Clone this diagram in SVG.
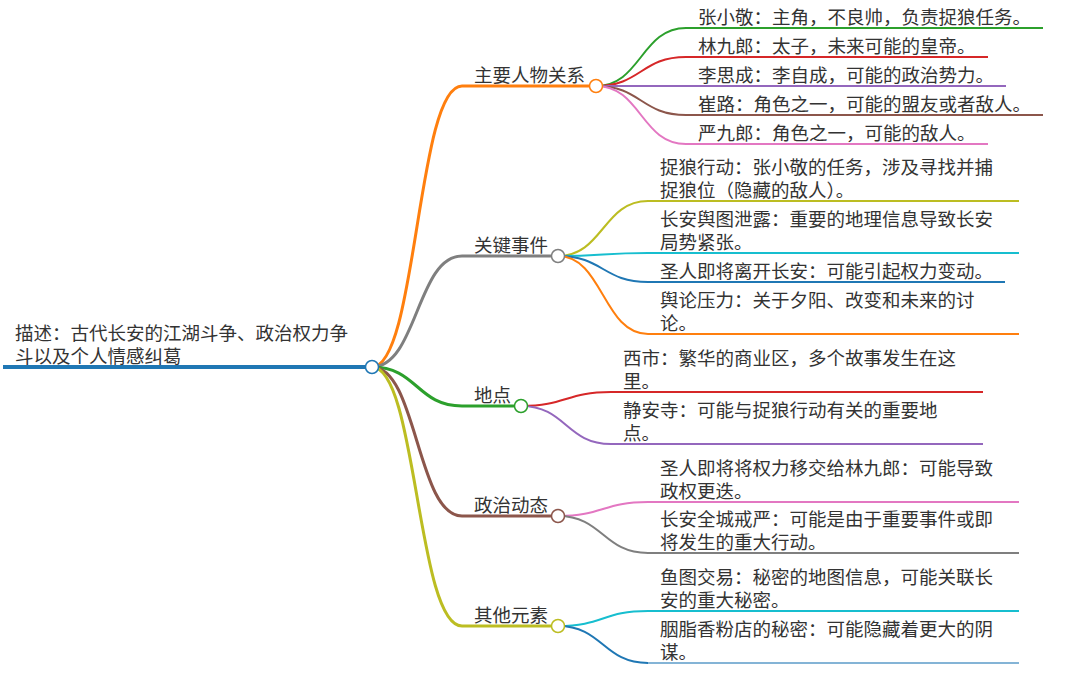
<svg xmlns="http://www.w3.org/2000/svg" width="1080" height="685" viewBox="0 0 1080 685">
<style>
text{font-family:"Noto Sans CJK SC","Noto Sans",sans-serif;font-size:18.5px;fill:#333}
.lk{fill:none}
.l0{stroke-width:4}
.l1{stroke-width:3}
.l2{stroke-width:2}
.dot{fill:#fff;stroke-width:1.5}
</style>
<rect width="1080" height="685" fill="#fff"/>
<g id="connectors" class="lk">
<path class="l1" stroke="#ff7f0e" d="M372,367 C417,367 417,86 462,86"/>
<path class="l1" stroke="#7f7f7f" d="M372,367 C417,367 417,256 462,256"/>
<path class="l1" stroke="#2ca02c" d="M372,367 C417,367 417,406 462,406"/>
<path class="l1" stroke="#8c564b" d="M372,367 C417,367 417,516 462,516"/>
<path class="l1" stroke="#bcbd22" d="M372,367 C417,367 417,626 462,626"/>
<path class="l2" stroke="#2ca02c" d="M596,86 C641,86 641,28 686,28"/>
<path class="l2" stroke="#d62728" d="M596,86 C641,86 641,57 686,57"/>
<path class="l2" stroke="#9467bd" d="M596,86 C641,86 641,86 686,86"/>
<path class="l2" stroke="#8c564b" d="M596,86 C641,86 641,115 686,115"/>
<path class="l2" stroke="#e377c2" d="M596,86 C641,86 641,144 686,144"/>
<path class="l2" stroke="#bcbd22" d="M558,256 C603,256 603,201 648,201"/>
<path class="l2" stroke="#17becf" d="M558,256 C603,256 603,253 648,253"/>
<path class="l2" stroke="#1f77b4" d="M558,256 C603,256 603,282 648,282"/>
<path class="l2" stroke="#ff7f0e" d="M558,256 C603,256 603,334 648,334"/>
<path class="l2" stroke="#d62728" d="M521,406 C566,406 566,392 611,392"/>
<path class="l2" stroke="#9467bd" d="M521,406 C566,406 566,444 611,444"/>
<path class="l2" stroke="#e377c2" d="M558,516 C603,516 603,502 648,502"/>
<path class="l2" stroke="#7f7f7f" d="M558,516 C603,516 603,553 648,553"/>
<path class="l2" stroke="#17becf" d="M558,626 C603,626 603,611 648,611"/>
<path class="l2" stroke="#1f77b4" d="M558,626 C603,626 603,663 648,663"/>
</g>
<g id="root">
<line class="l0" stroke="#1f77b4" x1="3" y1="367" x2="372" y2="367"/>
<text x="15" y="340">描述：古代长安的江湖斗争、政治权力争</text>
<text x="15" y="363">斗以及个人情感纠葛</text>
<circle class="dot" stroke="#1f77b4" cx="372" cy="367" r="6.5"/>
</g>
<g id="n-characters">
<line class="l1" stroke="#ff7f0e" x1="462" y1="86" x2="596" y2="86"/>
<text x="474" y="82">主要人物关系</text>
<circle class="dot" stroke="#ff7f0e" cx="596" cy="86" r="6.5"/>
</g>
<g id="n-zhang"><line class="l2" stroke="#2ca02c" x1="686" y1="28" x2="1043" y2="28"/><text x="698" y="24">张小敬：主角，不良帅，负责捉狼任务。</text></g>
<g id="n-lin"><line class="l2" stroke="#d62728" x1="686" y1="57" x2="988" y2="57"/><text x="698" y="53">林九郎：太子，未来可能的皇帝。</text></g>
<g id="n-li"><line class="l2" stroke="#9467bd" x1="686" y1="86" x2="1006" y2="86"/><text x="698" y="82">李思成：李自成，可能的政治势力。</text></g>
<g id="n-cui"><line class="l2" stroke="#8c564b" x1="686" y1="115" x2="1043" y2="115"/><text x="698" y="111">崔路：角色之一，可能的盟友或者敌人。</text></g>
<g id="n-yan"><line class="l2" stroke="#e377c2" x1="686" y1="144" x2="988" y2="144"/><text x="698" y="140">严九郎：角色之一，可能的敌人。</text></g>
<g id="n-events">
<line class="l1" stroke="#7f7f7f" x1="462" y1="256" x2="558" y2="256"/>
<text x="474" y="252">关键事件</text>
<circle class="dot" stroke="#7f7f7f" cx="558" cy="256" r="6.5"/>
</g>
<g id="n-hunt"><line class="l2" stroke="#bcbd22" x1="648" y1="201" x2="1019" y2="201"/><text x="660" y="174">捉狼行动：张小敬的任务，涉及寻找并捕</text><text x="660" y="197">捉狼位（隐藏的敌人）。</text></g>
<g id="n-map"><line class="l2" stroke="#17becf" x1="648" y1="253" x2="1019" y2="253"/><text x="660" y="226">长安舆图泄露：重要的地理信息导致长安</text><text x="660" y="249">局势紧张。</text></g>
<g id="n-leave"><line class="l2" stroke="#1f77b4" x1="648" y1="282" x2="1005" y2="282"/><text x="660" y="278">圣人即将离开长安：可能引起权力变动。</text></g>
<g id="n-opinion"><line class="l2" stroke="#ff7f0e" x1="648" y1="334" x2="1019" y2="334"/><text x="660" y="307">舆论压力：关于夕阳、改变和未来的讨</text><text x="660" y="330">论。</text></g>
<g id="n-places">
<line class="l1" stroke="#2ca02c" x1="462" y1="406" x2="521" y2="406"/>
<text x="474" y="402">地点</text>
<circle class="dot" stroke="#2ca02c" cx="521" cy="406" r="6.5"/>
</g>
<g id="n-xishi"><line class="l2" stroke="#d62728" x1="611" y1="392" x2="983" y2="392"/><text x="623" y="365">西市：繁华的商业区，多个故事发生在这</text><text x="623" y="388">里。</text></g>
<g id="n-jingan"><line class="l2" stroke="#9467bd" x1="611" y1="444" x2="983" y2="444"/><text x="623" y="417">静安寺：可能与捉狼行动有关的重要地</text><text x="623" y="440">点。</text></g>
<g id="n-politics">
<line class="l1" stroke="#8c564b" x1="462" y1="516" x2="558" y2="516"/>
<text x="474" y="512">政治动态</text>
<circle class="dot" stroke="#8c564b" cx="558" cy="516" r="6.5"/>
</g>
<g id="n-transfer"><line class="l2" stroke="#e377c2" x1="648" y1="502" x2="1019" y2="502"/><text x="660" y="475">圣人即将将权力移交给林九郎：可能导致</text><text x="660" y="498">政权更迭。</text></g>
<g id="n-martial"><line class="l2" stroke="#7f7f7f" x1="648" y1="553" x2="1019" y2="553"/><text x="660" y="526">长安全城戒严：可能是由于重要事件或即</text><text x="660" y="549">将发生的重大行动。</text></g>
<g id="n-others">
<line class="l1" stroke="#bcbd22" x1="462" y1="626" x2="558" y2="626"/>
<text x="474" y="622">其他元素</text>
<circle class="dot" stroke="#bcbd22" cx="558" cy="626" r="6.5"/>
</g>
<g id="n-fishmap"><line class="l2" stroke="#17becf" x1="648" y1="611" x2="1019" y2="611"/><text x="660" y="584">鱼图交易：秘密的地图信息，可能关联长</text><text x="660" y="607">安的重大秘密。</text></g>
<g id="n-rouge"><line class="l2" stroke="#1f77b4" stroke-opacity="0.55" x1="648" y1="663" x2="1019" y2="663"/><text x="660" y="636">胭脂香粉店的秘密：可能隐藏着更大的阴</text><text x="660" y="659">谋。</text></g>
</svg>
